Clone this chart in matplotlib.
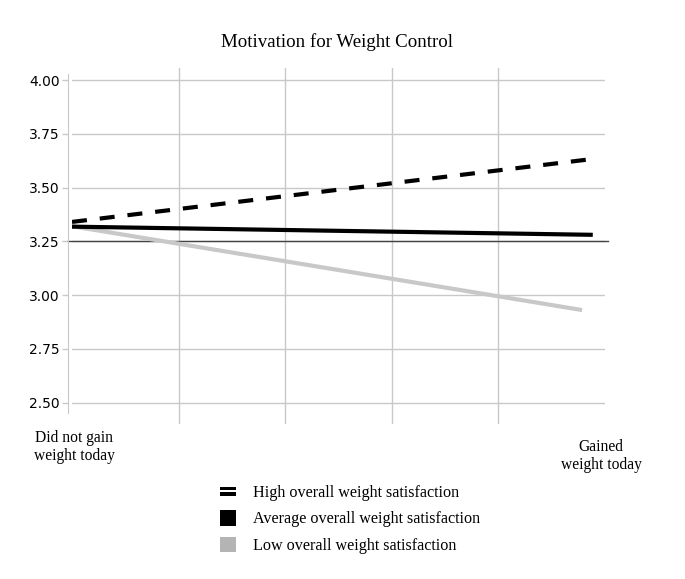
import matplotlib.pyplot as plt
from matplotlib.legend_handler import HandlerBase
from matplotlib.patches import Patch, Rectangle

# Simple-slopes data.
x_labels = ['Did not gain\nweight today', 'Gained\nweight today']
series_names = ['High overall weight satisfaction',
                'Average overall weight satisfaction',
                'Low overall weight satisfaction']
high_x = [0.0, 0.975]
high_y = [3.34, 3.632]
avg_x = [0.0, 0.978]
avg_y = [3.318, 3.28]
low_x = [0.0, 0.958]
low_y = [3.32, 2.93]
ref_value = 3.25
y_ticks = [2.50, 2.75, 3.00, 3.25, 3.50, 3.75, 4.00]

SERIF = 'Liberation Serif'
SANS = 'Liberation Sans'


class DoubleBarHandler(HandlerBase):
    """Legend key made of two thick horizontal bars."""

    def create_artists(self, legend, orig_handle, xdescent, ydescent,
                       width, height, fontsize, trans):
        bar_h = height * 0.2
        mid = height / 2 - ydescent
        top = Rectangle((-xdescent, mid + 0.08 * height), width, bar_h,
                        facecolor='black', edgecolor='none', transform=trans)
        bottom = Rectangle((-xdescent, mid - 0.08 * height - bar_h), width,
                           bar_h, facecolor='black', edgecolor='none',
                           transform=trans)
        return [top, bottom]


def main():
    fig = plt.figure(figsize=(6.85, 5.79), dpi=100)
    ax = fig.add_axes([72 / 685, 1 - 424 / 579, 532.5 / 685, 356 / 579])

    ax.set_xlim(0, 1)
    ax.set_ylim(2.40, 4.056)

    grid_color = '#c8c8c8'
    ax.set_yticks(y_ticks)
    ax.set_yticklabels(['%.2f' % v for v in y_ticks], fontfamily=SANS,
                       fontsize=7.8, color='#5a5a5a')
    ax.set_xticks([0.2, 0.4, 0.6, 0.8])
    ax.tick_params(axis='x', length=0, labelbottom=False)
    ax.tick_params(axis='y', length=4, width=1, color=grid_color, pad=2)
    ax.grid(True, color=grid_color, linewidth=1)
    ax.set_axisbelow(True)

    for side in ['top', 'right', 'bottom']:
        ax.spines[side].set_visible(False)
    ax.spines['left'].set_position(('outward', 3))
    ax.spines['left'].set_color(grid_color)
    ax.spines['left'].set_bounds(2.45, 4.03)

    ax.axhline(ref_value, xmin=-0.0075, xmax=1.0066, color='#444444',
               linewidth=1, clip_on=False, zorder=2)

    ax.plot(low_x, low_y, color='#c8c8c8', linewidth=3,
            solid_capstyle='butt', zorder=3)
    ax.plot(avg_x, avg_y, color='black', linewidth=3,
            solid_capstyle='butt', zorder=4)
    ax.plot(high_x, high_y, color='black', linewidth=3, dashes=(3.6, 3.1),
            dash_capstyle='butt', zorder=5)

    fig.text(74 / 685, 1 - 447 / 579, x_labels[0], ha='center', va='center',
             multialignment='center', fontfamily=SERIF, fontsize=11.2,
             linespacing=1.1)
    fig.text(601 / 685, 1 - 456 / 579, x_labels[1], ha='center', va='center',
             multialignment='center', fontfamily=SERIF, fontsize=11.2,
             linespacing=1.1)

    fig.text(337 / 685, 1 - 42 / 579, 'Motivation for Weight Control',
             ha='center', va='center', fontfamily=SERIF, fontsize=13.6)

    handles = [Patch(facecolor='black'),
               Patch(facecolor='black', edgecolor='none'),
               Patch(facecolor='#b4b4b4', edgecolor='none')]
    fig.legend(handles, series_names, loc='upper left',
               bbox_to_anchor=(205 / 685, 1 - 469 / 579), frameon=False,
               prop={'family': SERIF, 'size': 11.6}, handlelength=1.05,
               handleheight=1.1, handletextpad=1.05, labelspacing=0.58,
               handler_map={handles[0]: DoubleBarHandler()})

    fig.savefig('out.png', dpi=100)
    plt.close(fig)


if __name__ == '__main__':
    main()
